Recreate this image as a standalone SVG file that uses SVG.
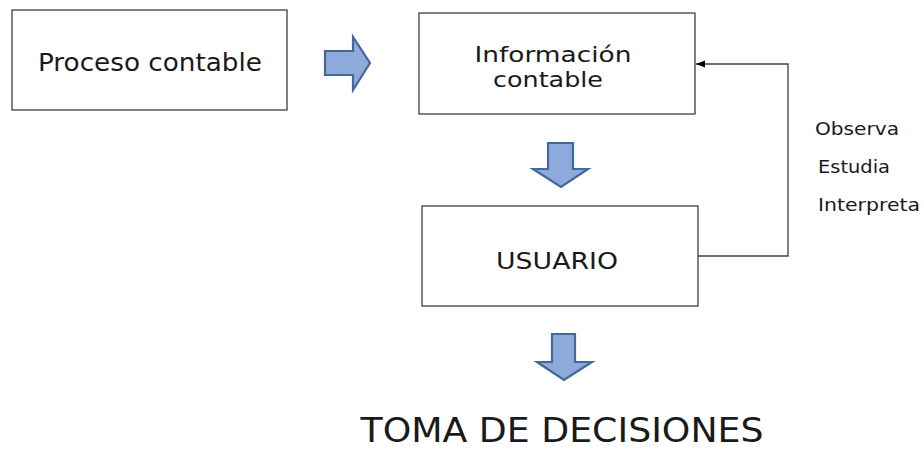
<svg xmlns="http://www.w3.org/2000/svg" width="924" height="449" viewBox="0 0 924 449">
<defs>
<style>
.box{fill:#fff;stroke:#404040;stroke-width:1.3}
.t{font-family:"DejaVu Sans",Verdana,sans-serif;fill:#1a1a1a;text-anchor:middle}
.s{font-family:"DejaVu Sans",Verdana,sans-serif;fill:#1a1a1a;font-size:17px}
.arr{fill:#8eaadb;stroke:#41699a;stroke-width:2.2;stroke-linejoin:miter}
.conn{fill:none;stroke:#404040;stroke-width:1.3}
</style>
<marker id="ah" viewBox="0 0 10 10" refX="10" refY="5" markerWidth="9" markerHeight="9" markerUnits="userSpaceOnUse" orient="auto">
<path d="M0,1 L10,5 L0,9 Z" fill="#000"/>
</marker>
</defs>
<rect width="924" height="449" fill="#fff"/>
<g id="proceso">
<rect class="box" x="12" y="10" width="275" height="100"/>
<text class="t" x="150" y="71" font-size="24" textLength="224" lengthAdjust="spacingAndGlyphs">Proceso contable</text>
</g>
<g id="arrow-right">
<path class="arr" d="M325,51 L353,51 L353,37 L370,63 L353,90 L353,75 L325,75 Z"/>
</g>
<g id="informacion">
<rect class="box" x="419" y="13" width="276" height="101"/>
<text class="t" x="553" y="62" font-size="21" textLength="157" lengthAdjust="spacingAndGlyphs">Información</text>
<text class="t" x="548" y="87" font-size="21" textLength="110" lengthAdjust="spacingAndGlyphs">contable</text>
</g>
<g id="arrow-down-1">
<path class="arr" d="M548,143 L573,143 L573,169 L588,169 L561,187 L533,169 L548,169 Z"/>
</g>
<g id="usuario">
<rect class="box" x="422" y="206" width="276" height="100"/>
<text class="t" x="557" y="269" font-size="23" textLength="122" lengthAdjust="spacingAndGlyphs">USUARIO</text>
</g>
<g id="arrow-down-2">
<path class="arr" d="M552,334 L575,334 L575,362 L592,362 L564,380 L537,362 L552,362 Z"/>
</g>
<g id="decisiones">
<text class="t" x="562" y="442" font-size="33" textLength="403" lengthAdjust="spacingAndGlyphs">TOMA DE DECISIONES</text>
</g>
<g id="acciones">
<text class="s" x="815" y="135" textLength="84" lengthAdjust="spacingAndGlyphs">Observa</text>
<text class="s" x="818" y="173" textLength="72" lengthAdjust="spacingAndGlyphs">Estudia</text>
<text class="s" x="818" y="211" textLength="102" lengthAdjust="spacingAndGlyphs">Interpreta</text>
</g>
<g id="connectors">
<path class="conn" d="M698,256 L788,256 L788,64 L696,64" marker-end="url(#ah)"/>
</g>
</svg>
